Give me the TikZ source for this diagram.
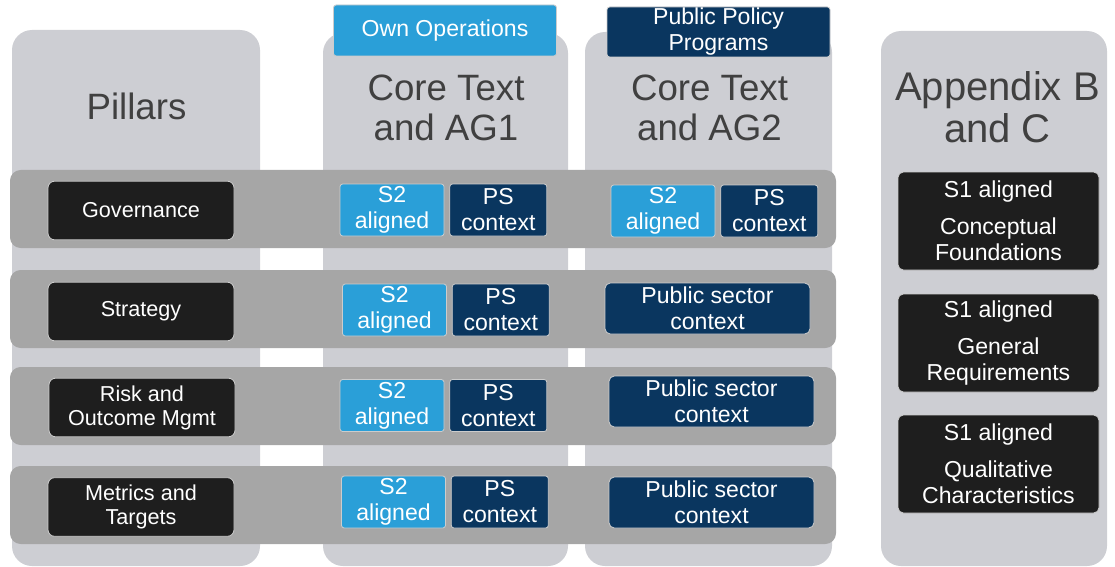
\documentclass[tikz,border=0pt]{standalone}
\usepackage{fontspec}
\setmainfont{Liberation Sans}
\usetikzlibrary{positioning}
\definecolor{colgrey}{HTML}{CDCED3}
\definecolor{rowgrey}{HTML}{A6A6A6}
\definecolor{boxblack}{HTML}{1E1E1E}
\definecolor{sblue}{HTML}{2A9FD8}
\definecolor{psnavy}{HTML}{0A365F}
\definecolor{headgrey}{HTML}{404040}

\begin{document}
\begin{tikzpicture}[
    x=0.75pt, y=-0.75pt,
    column/.style={fill=colgrey, rounded corners=15pt},
    band/.style={fill=rowgrey, rounded corners=8pt},
    heading/.style={align=center, text=headgrey, font=\fontsize{27.5}{30}\selectfont},
    tag/.style={rectangle, rounded corners=2pt, draw=white!80!black, line width=0.6pt,
                text=white, align=center, inner sep=0pt, font=\fontsize{17.3}{19.5}\selectfont},
    pillar/.style={tag, fill=boxblack, rounded corners=5pt, minimum width=139.5pt,
                   minimum height=44pt, font=\fontsize{16.2}{18}\selectfont},
    stwo/.style={tag, fill=sblue, minimum width=78pt, minimum height=39pt},
    pscon/.style={tag, fill=psnavy, minimum width=72.75pt, minimum height=39pt},
    pswide/.style={tag, fill=psnavy, rounded corners=4pt, minimum width=153.75pt, minimum height=38.25pt},
    sone/.style={tag, fill=boxblack, rounded corners=4pt, minimum width=150.75pt, minimum height=73.5pt}
]
\useasboundingbox (0,0) rectangle (1115,567);

% columns
\fill[column] (12,30) rectangle (260,566);
\fill[column] (323,33) rectangle (568,566);
\fill[column] (585,32) rectangle (832,566);
\fill[column] (881,31) rectangle (1107,566);

% rows
\fill[band] (10,170) rectangle (836,248);
\fill[band] (10,270) rectangle (836,348);
\fill[band] (10,367) rectangle (836,445);
\fill[band] (10,466) rectangle (836,544);

% headings
\node[tag, fill=sblue, minimum width=167.25pt, minimum height=38.25pt] (own) at (445,30.5) {Own Operations};
\node[tag, fill=psnavy, minimum width=167.25pt, minimum height=37.5pt] (ppp) at (718.5,32) {Public Policy\\Programs};
\node[heading] (pill) at (136.5,106) {Pillars};
\node[heading] (ag1) at (446,108) {Core Text\\and AG1};
\node[heading] (ag2) at (709.5,108) {Core Text\\and AG2};
\node[heading, font=\fontsize{30}{31.5}\selectfont] (app) at (997.5,107) {Appendix B\\and C};

% pillars
\node[pillar] (gov)   at (141,210.5) {Governance};
\node[pillar] (strat) at (141,311.5) {Strategy};
\node[pillar] (risk)  at (142,407.5) {Risk and\\Outcome Mgmt};
\node[pillar] (metr)  at (141,507)   {Metrics and\\Targets};

% core text and AG1
\node[stwo] (s2gov)   at (392,210)   {S2\\aligned};
\node[pscon, right=3.75pt of s2gov] (psgov) {PS\\context};
\node[stwo] (s2strat) at (394.5,310) {S2\\aligned};
\node[pscon, right=3.75pt of s2strat] (psstrat) {PS\\context};
\node[stwo] (s2risk)  at (392,405.5) {S2\\aligned};
\node[pscon, right=3.75pt of s2risk] (psrisk) {PS\\context};
\node[stwo] (s2metr)  at (393.5,502) {S2\\aligned};
\node[pscon, right=3.75pt of s2metr] (psmetr) {PS\\context};

% core text and AG2
\node[stwo] (s2govb) at (663,211) {S2\\aligned};
\node[pscon, right=3.75pt of s2govb] (psgovb) {PS\\context};
\node[pswide] (pubstrat) at (707.5,308.5) {Public sector\\context};
\node[pswide] (pubrisk)  at (711.5,401.5) {Public sector\\context};
\node[pswide] (pubmetr)  at (711.5,502.5) {Public sector\\context};

% appendix B and C
\node[sone] (concept) at (998.5,221) {S1 aligned\\[8pt]Conceptual\\Foundations};
\node[sone] (general) at (998.5,343) {S1 aligned\\[8pt]General\\Requirements};
\node[sone] (quality) at (998.5,464) {S1 aligned\\[8pt]Qualitative\\Characteristics};
\end{tikzpicture}
\end{document}
